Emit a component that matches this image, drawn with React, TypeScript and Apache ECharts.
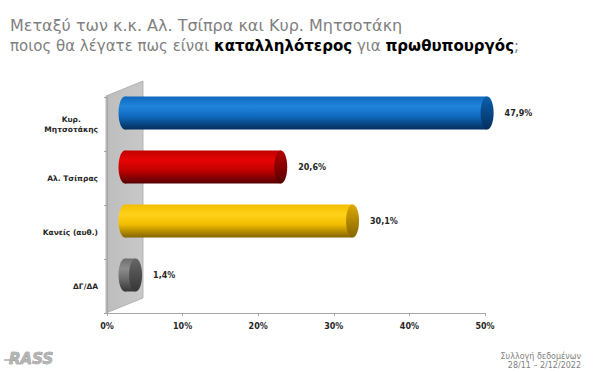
import React, { useEffect, useRef } from 'react';
import * as echarts from 'echarts';

const categories = ['Κυρ. Μητσοτάκης', 'Αλ. Τσίπρας', 'Κανείς (αυθ.)', 'ΔΓ/ΔΑ'];
const values = [47.9, 20.6, 30.1, 1.4];
const xMin = 0;
const xMax = 50;
const xStep = 10;

const titleLine1 = 'Μεταξύ των κ.κ. Αλ. Τσίπρα και Κυρ. Μητσοτάκη';
const titleLine2 = ['ποιος θα λέγατε πως είναι ', 'καταλληλότερος', ' για ', 'πρωθυπουργός', ';'];
const footer = ['Συλλογή δεδομένων', '28/11 – 2/12/2022'];

const barColors = [
  { top: '#0f69bd', mid: '#2184dc', bot: '#042f5c', cap: '#0b5fae' },
  { top: '#c20000', mid: '#e60505', bot: '#560000', cap: '#b50000' },
  { top: '#f2be00', mid: '#ffd21a', bot: '#856400', cap: '#dcaa00' },
  { top: '#6e6e6e', mid: '#8c8c8c', bot: '#363636', cap: '#666666' },
];

const GL = 107, GT = 97, GR = 115, GB = 59;
const FONT = 'DejaVu Sans';

export default function App() {
  const ref = useRef<HTMLDivElement>(null);
  useEffect(() => {
    if (!ref.current) return;
    const chart = echarts.init(ref.current, null, { renderer: 'svg' });
    const H = 372;
    const bottomY = H - GB;
    const option: any = {
      animation: false,
      backgroundColor: '#ffffff',
      grid: { left: GL, top: GT, right: GR, bottom: GB, containLabel: false },
      xAxis: {
        type: 'value',
        min: xMin,
        max: xMax,
        interval: xStep,
        axisLine: { show: true, lineStyle: { color: '#a6a6a6', width: 1 } },
        axisTick: { show: true, length: 3, lineStyle: { color: '#a6a6a6' } },
        splitLine: { show: false },
        axisLabel: {
          formatter: '{value}%',
          color: '#262626',
          fontFamily: FONT,
          fontWeight: 'bold',
          fontSize: 8,
          margin: 9,
        },
      },
      yAxis: {
        type: 'category',
        data: categories,
        inverse: true,
        axisLine: { show: true, lineStyle: { color: '#a6a6a6' } },
        axisTick: { show: true, length: 3, lineStyle: { color: '#a6a6a6' } },
        splitLine: { show: false },
        axisLabel: {
          color: '#262626',
          fontFamily: FONT,
          fontWeight: 'bold',
          fontSize: 7.5,
          margin: 9,
          lineHeight: 10,
          formatter: (v: string) => {
            const parts = v.split(' ');
            if (parts.length === 2 && v.startsWith('Κυρ.')) {
              return '{c|' + parts[0] + '}\n{r|' + parts[1] + '}';
            }
            return v;
          },
          rich: {
            c: { align: 'center', fontFamily: FONT, fontWeight: 'bold', fontSize: 7.5, color: '#262626', lineHeight: 10 },
            r: { align: 'right', fontFamily: FONT, fontWeight: 'bold', fontSize: 7.5, color: '#262626', lineHeight: 10 },
          },
        },
      },
      graphic: [
        {
          type: 'polygon',
          z: 0,
          shape: { points: [[GL - 1, bottomY], [GL - 1, GT - 1], [GL + 36, GT - 16], [GL + 36, bottomY - 15]] },
          style: {
            fill: new echarts.graphic.LinearGradient(0, 0, 1, 0, [
              { offset: 0, color: '#bdbdbd' },
              { offset: 1, color: '#c8c8c8' },
            ]),
            stroke: '#a8a8a8',
            lineWidth: 0.8,
          },
        },
        {
          type: 'text',
          x: 10,
          y: 17,
          style: {
            text: titleLine1,
            fontFamily: FONT,
            fontSize: 16,
            fill: '#7f7f7f',
            verticalAlign: 'top',
          },
        },
        {
          type: 'text',
          x: 10,
          y: 38,
          style: {
            text:
              '{g|' + titleLine2[0] + '}{b|' + titleLine2[1] + '}{g|' + titleLine2[2] + '}{b|' + titleLine2[3] + '}{g|' + titleLine2[4] + '}',
            verticalAlign: 'top',
            rich: {
              g: { fontFamily: FONT, fontSize: 15, fill: '#7f7f7f' },
              b: { fontFamily: FONT, fontSize: 15, fill: '#000000', fontWeight: 'bold' },
            },
          },
        },
        {
          type: 'text',
          x: 581,
          y: 356,
          style: {
            text: footer[0],
            fontFamily: FONT,
            fontSize: 8,
            fill: '#7f7f7f',
            align: 'right',
            verticalAlign: 'middle',
          },
        },
        {
          type: 'text',
          x: 581,
          y: 365,
          style: {
            text: footer[1],
            fontFamily: FONT,
            fontSize: 8,
            fill: '#7f7f7f',
            align: 'right',
            verticalAlign: 'middle',
          },
        },
        {
          type: 'line',
          shape: { x1: 4, y1: 360, x2: 16, y2: 360 },
          style: { stroke: '#a8a8a8', lineWidth: 1.5 },
        },
        {
          type: 'text',
          x: 9,
          y: 359,
          style: {
            text: 'RASS',
            fontFamily: FONT,
            fontStyle: 'italic',
            fontWeight: 'bold',
            fontSize: 15,
            fill: '#b4b4b4',
            stroke: '#808080',
            lineWidth: 0.6,
            verticalAlign: 'middle',
          },
        },
      ],
      series: [
        {
          type: 'custom',
          z: 5,
          coordinateSystem: 'cartesian2d',
          encode: { x: 0, y: 1 },
          data: values.map((v, i) => [v, i]),
          renderItem: (params: any, api: any) => {
            const v = api.value(0);
            const idx = api.value(1);
            const p0 = api.coord([0, idx]);
            const p1 = api.coord([v, idx]);
            const band = api.size([0, 1])[1];
            const h = band * 0.61;
            const ry = h / 2;
            const rx = 6.5;
            const dx = 18;
            const dy = -11;
            const cy = p0[1] + dy;
            const x0 = p0[0] + dx;
            const x1 = p1[0] + dx;
            const c = barColors[idx];
            const grad = () =>
              new echarts.graphic.LinearGradient(0, 0, 0, 1, [
                { offset: 0, color: c.top },
                { offset: 0.3, color: c.mid },
                { offset: 0.6, color: c.top },
                { offset: 1, color: c.bot },
              ]);
            const capGrad = new echarts.graphic.LinearGradient(0, 0, 0, 1, [
              { offset: 0, color: c.cap },
              { offset: 1, color: c.bot },
            ]);
            const label = v.toFixed(1).replace('.', ',') + '%';
            return {
              type: 'group',
              children: [
                { type: 'ellipse', shape: { cx: x0, cy, rx, ry }, style: { fill: grad() } },
                { type: 'rect', shape: { x: x0, y: cy - ry, width: Math.max(x1 - x0, 0), height: h }, style: { fill: grad() } },
                { type: 'ellipse', shape: { cx: x1, cy, rx, ry }, style: { fill: capGrad } },
                {
                  type: 'text',
                  style: {
                    text: label,
                    x: x1 + rx + 11,
                    y: cy,
                    verticalAlign: 'middle',
                    fontFamily: FONT,
                    fontWeight: 'bold',
                    fontSize: 8,
                    fill: '#262626',
                  },
                },
              ],
            };
          },
        },
      ],
    };
    chart.setOption(option);
    return () => chart.dispose();
  }, []);
  return <div ref={ref} style={{ position: 'absolute', left: 0, top: 0, width: 600, height: 372 }} />;
}
